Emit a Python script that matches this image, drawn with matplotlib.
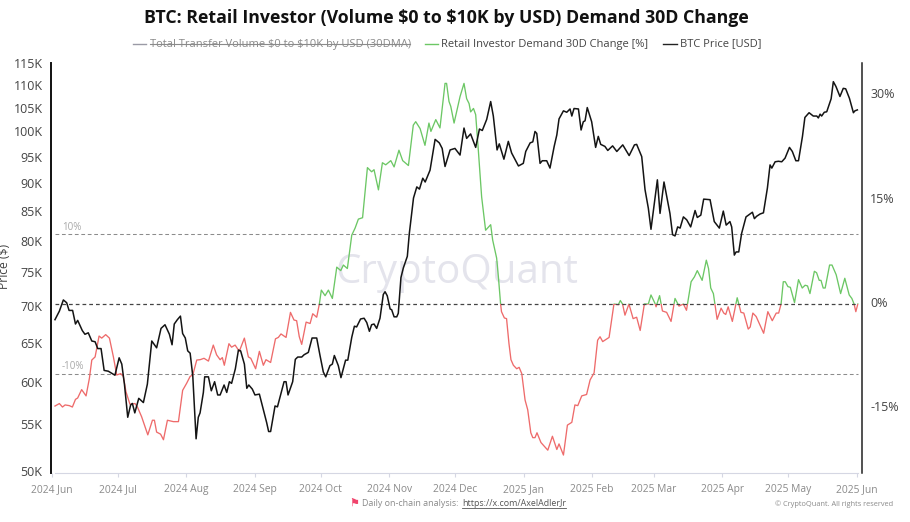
#!/usr/bin/env python3
import numpy as np
import matplotlib
matplotlib.use('Agg')
import matplotlib.pyplot as plt
import matplotlib.dates as mdates
from matplotlib.lines import Line2D
from matplotlib.patches import Rectangle
from matplotlib.transforms import ScaledTranslation

# days are counted from 2024-07-01
btc_days = [-28.6, -26.6, -24.8, -23.3, -22.2, -20.6, -19.3, -18.3, -16.2, -15, -13.5, -11.9, -10.4, -9.2, -7.7, -6.3,
            -4.4, -1.4, 0.5, 1.7, 2.9, 4.4, 5.7, 6.5, 7.6, 9.4, 11.5, 13.3, 15.3, 17.5, 19.5, 21.3, 23.3, 24.5, 25.5,
            26.9, 28.3, 29.3, 30.5, 31.6, 32.7, 33.9, 35.4, 36.4, 37.2, 38.7, 39.3, 41, 42.3, 43.8, 45.2, 46.3, 48.1,
            49.3, 50.5, 51.5, 53.2, 54.6, 55.6, 57.3, 58.4, 59.3, 60.9, 62.1, 64.1, 65.9, 67.4, 68.3, 69.2, 71.2,
            72.3, 75.3, 76.2, 77.1, 79.2, 80.4, 81.5, 83.3, 84.4, 86.3, 88, 90.1, 91.6, 93.1, 94.2, 96.1, 97.2, 98.1,
            99.9, 101.1, 103.2, 104.2, 106, 107.2, 108.2, 110, 111.6, 112.8, 114, 115, 116.1, 117.3, 118.8, 120.3,
            121.1, 122.1, 123.4, 124.1, 125.2, 126.4, 127.1, 128.3, 129.4, 131.2, 132.1, 134, 135.5, 136.7, 138.2,
            139.3, 141.5, 143.8, 145.7, 147, 148.3, 150.6, 152.8, 155.1, 156.9, 158.1, 159.9, 162.2, 163.9, 165.2,
            167.2, 169, 170.2, 171.9, 172.9, 175, 177, 178.5, 181.6, 183.8, 184.9, 186.9, 188.1, 189.1, 189.9, 191.4,
            192.4, 194.4, 195.9, 197.8, 199, 200, 202, 203.5, 205, 205.8, 206.8, 208.8, 210, 211, 211.8, 212.8, 214.8,
            216.6, 217.8, 218.9, 220.8, 222.1, 224.3, 226.2, 228.9, 231.8, 234.2, 235.2, 237.5, 239, 240.5, 241.7,
            244.6, 245.8, 247.6, 250.3, 251.5, 252.6, 253.8, 254.9, 256.4, 257.9, 259.7, 261.7, 262.7, 264.3, 265.6,
            268.5, 270.4, 272.7, 274.5, 275.8, 277.5, 278.3, 279.5, 280.3, 281.5, 282.8, 284.8, 287.7, 288.6, 289.6,
            291.2, 292.7, 294.5, 295.7, 296.5, 298, 299.5, 301, 302.5, 304.5, 305.8, 307.4, 308.6, 310.4, 311.5,
            313.4, 315.3, 316.9, 317.6, 318.4, 319.1, 320.3, 321.4, 323.4, 324.4, 325.6, 327.4, 328.9, 330, 331.7,
            333.5, 334.2, 335.3]
btc_price = [68.1, 69.3, 70.9, 70.5, 69.4, 69.4, 67.5, 68.0, 66.6, 66.1, 66.3, 65.2, 65.1, 64.2, 64.2, 61.4,
             61.3, 60.8, 63.0, 62.2, 59.7, 55.8, 57.2, 57.4, 56.3, 58.0, 57.5, 59.7, 65.2, 64.3, 66.9, 67.4, 66.1, 64.7, 67.5,
             68.1, 68.6, 66.2, 65.6, 63.9, 63.6, 60.7, 53.4, 55.8, 56.3, 58.7, 60.6, 60.6, 58.9, 60, 58.4, 58.4, 59.6,
             58.7, 60, 59.8, 61.6, 64.0, 63.9, 62.2, 59.2, 59.6, 59.1, 58.4, 58.5, 56.7, 55.2, 54.2, 54.2, 57.1,
             57.0, 60, 60, 58.4, 60, 62.8, 63.1, 63.1, 63.4, 63.7, 65.6, 65.6, 63.3, 61.2, 60.6, 62, 62.2, 63.3,
             62, 60.5, 62.7, 62.7, 65.7, 67.2, 67.1, 68.2, 68.3, 67.7, 66.5, 67.4, 67.5, 66.9, 68.3, 71.7,
             72.1, 71.5, 69.6, 69.5, 68.5, 68.5, 69, 74.2, 75.7, 77.5, 81.2, 87.3, 89.3, 88.9, 90.9,
             90.2, 92.4, 98.4, 97.7, 96.6, 93.1, 96.3, 96.6, 95.3, 100.7, 98.6, 99.5, 96.8, 100.5, 100.2,
             102.5, 106.3, 103.2, 96.3, 97.5, 94.5, 98, 95.7, 93.2, 93.7, 96, 97.7, 97.9, 100, 99.6, 93.7,
             94.2, 94.2, 92.8, 97, 99.3, 102.6, 104.3, 104, 104.7, 103.2, 104.8, 104.7, 100.3, 102, 102.2, 105, 102,
             96.8, 99, 97.4, 97, 96.2, 97.1, 96, 97.3, 95.2, 97.3, 97.4, 95, 88.8, 85.5, 81.9,
             90.6, 84.6, 90.2, 84.6, 81, 80.8, 82.3, 82.1, 84, 83.5, 82.3, 85.1, 83.9, 84.3, 87.1,
             87, 83.2, 82.1, 85, 82.6, 83.2, 82.3, 77.7, 78.2, 78.2, 81.2, 84, 84.8, 83.7, 84.1,
             84.5, 84.7, 89.1, 93.4, 92.8, 94, 94.1, 94, 94.7, 96.8, 96, 94.2, 94.2, 99, 102.9,
             103.9, 103.2, 103.2, 102.8, 103.6, 103.2, 104, 104.1, 106.9, 110.7, 109.6, 107.4, 109.2, 109.1, 107,
             103.9, 104.3, 104.5]

demand_days = [-28.6, -26.6, -25.2, -24, -22.1, -20.7, -19.3, -18.3, -16.5, -14.5, -13, -11.9, -10.4, -8.6, -7.4, -5.6,
               -3.9, -2.1, -0.6, 1.2, 2.4, 3.6, 5.4, 7.7, 8.8, 10.7, 13.5, 15.6, 16.5, 17.5, 19.3, 20.6, 22.4, 25.1,
               27.4, 28.1, 29.3, 31.1, 32.7, 33.9, 35.7, 37.2, 39, 41, 43.2, 44.7, 46.3, 47.3, 48.2, 50.3, 51.5, 53.1,
               55, 57.3, 59.1, 60.2, 62.4, 64.1, 65.9, 67.1, 69.2, 71.4, 72.7, 73.9, 76.2, 78.2, 79.8, 81, 82.2, 83.3,
               85.3, 87.1, 88.3, 90.1, 91.3, 92.2, 93.9, 95.4, 97.2, 99.2, 101, 102.2, 104, 106, 107.5, 109, 110.9,
               113.1, 115, 116.1, 118.1, 119.9, 121.4, 123.7, 125.2, 127.4, 129.1, 131.7, 133.9, 135, 137, 139.2, 141,
               141.9, 144.1, 146, 148.3, 149, 150.1, 150.9, 152.4, 155.1, 156.9, 158.1, 159.2, 159.9, 161.2, 162.2,
               163.4, 164.9, 166.7, 169, 169.9, 171.7, 172.5, 173.5, 173.9, 175.2, 176.2, 177.3, 178.2, 179.3, 180.8,
               181.9, 183.1, 184.6, 185.8, 187.2, 188.1, 189.1, 190, 191.8, 194.9, 197, 199, 200, 202, 203.8, 205.8,
               207.2, 208.5, 210.3, 212.5, 214.1, 215.9, 217.5, 218.6, 219.8, 222.7, 224.9, 226.9, 227.8, 228.8, 229.9,
               231.7, 233.6, 235.2, 236.8, 238.7, 240.5, 241.7, 243.5, 244, 245.6, 246.9, 248.8, 250.8, 252.6, 254.4,
               256.4, 257.8, 259.9, 261.4, 262.7, 264.9, 266.8, 267.8, 268.8, 270, 271.7, 273.5, 274.7, 275.6, 276.7,
               278.6, 280.8, 282.5, 283.8, 285.8, 286.7, 287.9, 289.4, 292.8, 294.7, 296.7, 298.5, 299.6, 300.7, 301.7,
               302.6, 303.8, 304.9, 306.8, 308.6, 310.3, 311.6, 312.7, 313.8, 315.8, 316.8, 318, 318.8, 319.8, 320.7,
               322.7, 323.8, 325.7, 327.7, 329.6, 331.6, 332.8, 333.8, 334.6, 335.5]
demand_pct = [-14.66, -14.3, -14.8, -14.5, -14.6, -14.8, -13.7, -13.5, -12.3, -13.2, -10.7, -8.05, -7.6, -4.6, -4.9, -4.4,
              -4.9, -7.6, -10.2, -10, -10.4, -12.6, -14.4, -14.3, -14.8, -16.2, -18.8, -16.7, -16.7, -18.4, -18.7, -19.5, -16.7, -16.9,
              -16.9, -15.2, -12.4, -11.4, -10.4, -10.2, -8.05, -8, -7.8, -8.2, -5.9, -7.3, -8, -7.7, -8.8, -5.7, -6.2, -5.9,
              -6.8, -4.9, -7.6, -7.8, -9.3, -6.8, -8.8, -8, -8.4, -5, -4.8, -4.3, -4.8, -1.2, -2.3, -2.4, -4.7, -5.8,
              -2.6, -2.8, -1.4, -1.9, 0, 2, 1.2, 2, 0.8, 5.3, 4.8, 5.6, 5.1, 9.9, 10.9, 12.2, 12.4,
              19.6, 19, 19.3, 16.4, 20.3, 20, 20.6, 19.7, 22.1, 20.6, 19.9, 25.7, 26.2, 25.2, 22.8, 26,
              24.8, 26.5, 25.3, 31.7, 31.7, 29.1, 28.4, 26, 29.8, 31.7, 29.5, 28.8, 27.6, 28.1, 27.2,
              22.1, 15.4, 10.6, 11.4, 9.2, 6.6, 3.9, 0, -1.1, -2, -2.1, -5.7, -8, -8.8, -9.3,
              -9.1, -10, -13.8, -15.2, -18.5, -19.2, -19.2, -18.5, -19.9, -21, -19, -20.9, -20.1, -21.7, -17.4, -17,
              -14.5, -14.6, -13.2, -13, -10.9, -9.9, -5.2, -4.7, -5.4, -4.8, 0, -0.1, 0.5, 0, -1.6,
              0, -2.1, -1.9, -3.8, 0, 0, 1.3, 0.1, -0.4, 1.2, -1, -1.2, -2.5, 0.8, -0.3,
              0, -0.9, 3.2, 3.9, 4.8, 3.4, 6.3, 5.1, 2.3, 1.5, -2.2, -0.6, -1.3, -1.5, -0.4,
              -2.5, 0.9, -1.2, -1.3, -3.6, -3.3, -1.3, -1.8, -4.2, -1.1, -2.4, -1.3, -1.3, 0, 3.2,
              3.2, 2.5, 2.4, 0.2, 3.5, 2.3, 2.7, 2.6, 1.5, 4.7, 4.5, 3.4, 3.4, 2.3, 2.3,
              5.6, 5.6, 4.2, 1.5, 3.7, 1.3, 0.8, 0, -1.1, 0]

price_ticks = [50, 55, 60, 65, 70, 75, 80, 85, 90, 95, 100, 105, 110, 115]
pct_ticks = [-15, 0, 15, 30]
guide_levels = [-10, 10]

W, H = 910, 522
GREEN = '#6cc765'
RED = '#ee6b6b'
TEXT = '#444444'
GREY = '#8a8a8a'

plt.rcParams['font.family'] = ['Open Sans', 'DejaVu Sans']
plt.rcParams['text.parse_math'] = False


def px(x, y):
    # pixel position in the picture, origin top left
    return x / W, 1 - y / H


def fig_line(fig, x0, x1, y, color, lw=1.0):
    fig.add_artist(Line2D([x0 / W, x1 / W], [1 - y / H, 1 - y / H], color=color, lw=lw, transform=fig.transFigure))


fig = plt.figure(figsize=(W / 100, H / 100), dpi=100)
ax_pct = fig.add_axes([51 / W, 1 - 473 / H, 811 / W, 410 / H])
ax = ax_pct.twinx()
ax_pct.yaxis.tick_right()
ax.yaxis.tick_left()
ax.yaxis.set_label_position('left')
ax.set_zorder(3)
ax.patch.set_visible(False)

base = mdates.date2num(np.datetime64('2024-07-01'))
btc_x = base + np.array(btc_days)
demand_x = base + np.array(demand_days)
x0, x1 = demand_x[0], demand_x[-1]

# watermark goes under everything
ax_pct.text(0.5, 0.4878, 'CryptoQuant', transform=ax_pct.transAxes, fontsize=29, color='#e4e4ec',
            ha='center', va='center', zorder=0)

# green above zero, red below
for color, bottom, height in [(GREEN, 0, 100), (RED, -100, 100)]:
    line, = ax_pct.plot(demand_x, demand_pct, color=color, lw=0.95, zorder=2)
    line.set_clip_path(Rectangle((x0 - 5, bottom), x1 - x0 + 10, height, transform=ax_pct.transData))

ax_pct.plot([x0, x1], [0, 0], color='#444444', lw=0.9, ls=(0, (3, 2.4)), zorder=3)
for level in guide_levels:
    ax_pct.plot([x0, x1], [level, level], color='#8c8c8c', lw=0.75, ls=(0, (3.6, 2.6)), zorder=1)
    ax_pct.text(base + (62 - 118) / 2.205, level + 0.25, '%d%%' % level, fontsize=7, color='#a8a8a8',
                va='bottom', ha='left')

ax.plot(btc_x, btc_price, color='#141414', lw=1.1)

ax.set_yscale('log')
ax.set_ylim(49.8, 115)
ax.set_yticks(price_ticks)
ax.set_yticklabels(['%dK' % p for p in price_ticks])
ax.minorticks_off()
ax.tick_params(axis='y', length=0, pad=6, labelsize=9, labelcolor=TEXT)
ax.set_xlim(base - 30.4, base + 337.4)

ax_pct.set_ylim(-24.28, 34.63)
ax_pct.set_yticks(pct_ticks)
ax_pct.set_yticklabels(['%d%%' % p for p in pct_ticks])
ax_pct.tick_params(axis='y', length=0, pad=6, labelsize=9, labelcolor=TEXT)
for lbl in ax_pct.get_yticklabels():
    lbl.set_transform(lbl.get_transform() + ScaledTranslation(0, 2 / 100, fig.dpi_scale_trans))

ax_pct.xaxis.set_major_locator(mdates.MonthLocator())
ax_pct.xaxis.set_major_formatter(mdates.DateFormatter('%Y %b'))
ax_pct.tick_params(axis='x', length=3, width=0.8, color='#d5d7e3', pad=5, labelsize=7.4, labelcolor=GREY)

for a in (ax, ax_pct):
    for side in ['top', 'left', 'right', 'bottom']:
        a.spines[side].set_visible(False)
ax.spines['left'].set_visible(True)
ax.spines['left'].set_linewidth(1.4)
ax.spines['left'].set_color('#111111')
ax.spines['right'].set_visible(True)
ax.spines['right'].set_linewidth(1.1)
ax.spines['right'].set_color('#222222')
ax.spines['bottom'].set_visible(True)
ax.spines['bottom'].set_color('#d5d7e3')
ax.spines['bottom'].set_bounds(x0, x1)

fig.text(*px(5, 266), 'Price ($)', rotation=90, fontsize=8.7, color=TEXT, ha='center', va='center')

fig.text(*px(446, 18), 'BTC: Retail Investor (Volume $0 to $10K by USD) Demand 30D Change', fontsize=12.8,
         fontweight='bold', color='#111111', ha='center', va='center')

# legend, drawn by hand because of the struck out entry
fig_line(fig, 133, 146, 44, '#9a9aa5')
fig.text(*px(150, 44), 'Total Transfer Volume $0 to $10K by USD (30DMA)', fontsize=8, color='#8a8a8a', va='center')
fig_line(fig, 150, 410, 44, '#8a8a8a', lw=0.8)
fig_line(fig, 425, 438, 44, GREEN)
fig.text(*px(441, 44), 'Retail Investor Demand 30D Change [%]', fontsize=8, color=TEXT, va='center')
fig_line(fig, 663, 677, 44, '#222222')
fig.text(*px(680, 44), 'BTC Price [USD]', fontsize=8, color=TEXT, va='center')

# footer
fig.text(*px(349, 503), '\u2691', fontsize=8, color='#f0436c', va='center', family=['DejaVu Sans'])
fig.text(*px(362, 503), 'Daily on-chain analysis:', fontsize=6.4, color=GREY, va='center')
fig.text(*px(462, 503), 'https://x.com/AxelAdlerJr', fontsize=6.4, color='#555555', va='center')
fig_line(fig, 462, 566, 508, '#555555', lw=0.6)
fig.text(*px(775, 504), '\u00a9 CryptoQuant. All rights reserved', fontsize=5.3, color=GREY, va='center')

fig.savefig('out.png', dpi=100)
